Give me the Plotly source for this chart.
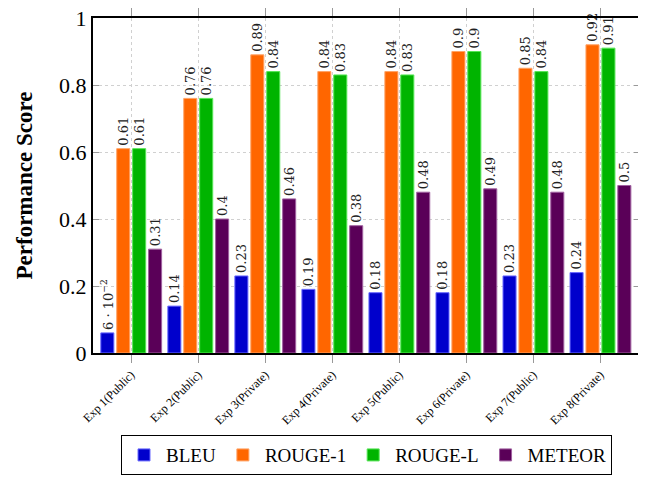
import plotly.graph_objects as go

categories = ["Exp 1(Public)", "Exp 2(Public)", "Exp 3(Private)", "Exp 4(Private)",
              "Exp 5(Public)", "Exp 6(Private)", "Exp 7(Public)", "Exp 8(Private)"]
bleu = [0.06, 0.14, 0.23, 0.19, 0.18, 0.18, 0.23, 0.24]
rouge1 = [0.61, 0.76, 0.89, 0.84, 0.84, 0.90, 0.85, 0.92]
rougeL = [0.61, 0.76, 0.84, 0.83, 0.83, 0.90, 0.84, 0.91]
meteor = [0.31, 0.40, 0.46, 0.38, 0.48, 0.49, 0.48, 0.50]

series = [
    ("BLEU", bleu, "#0000cc", "#6a6aff"),
    ("ROUGE-1", rouge1, "#ff6600", "#ffa366"),
    ("ROUGE-L", rougeL, "#00b400", "#55e655"),
    ("METEOR", meteor, "#5a0058", "#a060a0"),
]

def fmt(v):
    if v < 0.1:
        return "6 · 10<sup>−2</sup>"
    s = f"{v:.2f}".rstrip("0")
    return s

fig = go.Figure()
for name, vals, col, edge in series:
    fig.add_trace(go.Bar(
        name=name, x=categories, y=vals,
        marker=dict(color=col, line=dict(color=edge, width=1)),
        text=[fmt(v) for v in vals], textposition="outside", textangle=-90,
        constraintext="none",
        textfont=dict(family="DejaVu Serif", size=13, color="#222"),
        cliponaxis=False,
    ))

fig.update_layout(
    width=638, height=470,
    margin=dict(l=85, r=6, t=10, b=125, autoexpand=False),
    paper_bgcolor="white", plot_bgcolor="white",
    barmode="group", bargap=0.05, bargroupgap=0.18,
    font=dict(family="Liberation Serif", color="black"),
    legend=dict(orientation="h", x=0.5, xanchor="center", y=-0.245, yanchor="top",
                bordercolor="black", borderwidth=1, font=dict(family="Liberation Serif", size=19),
                traceorder="normal", itemwidth=34, tracegroupgap=0),
    showlegend=True,
)
fig.update_xaxes(
    range=[-0.57, 7.59], tickangle=-45, tickfont=dict(family="Liberation Serif", size=12),
    showline=True, linecolor="black", linewidth=2, mirror="ticks",
    ticks="outside", ticklen=8, tickcolor="#999", automargin=False,
    ticklabeloverflow="allow",
    showgrid=True, gridcolor="#d0d0d0", griddash="dot", gridwidth=1,
)
fig.update_yaxes(
    range=[0, 1], tickvals=[0, 0.2, 0.4, 0.6, 0.8, 1], ticktext=["0", "0.2", "0.4", "0.6", "0.8", "1"],
    tickfont=dict(family="Liberation Serif", size=22), automargin=False,
    ticklabeloverflow="allow",
    showline=True, linecolor="black", linewidth=2, mirror="ticks",
    ticks="inside", ticklen=6, tickcolor="#999",
    showgrid=True, gridcolor="#d0d0d0", griddash="dot", gridwidth=1, zeroline=False,
    title=dict(text="<b>Performance Score</b>", font=dict(family="Liberation Serif", size=23), standoff=20),
)

fig.write_html("out.html")
